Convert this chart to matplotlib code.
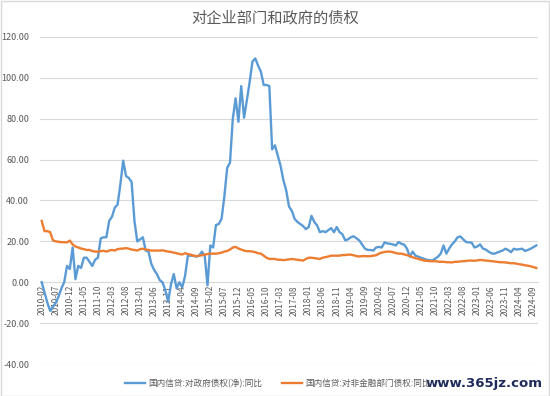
import numpy as np
import pandas as pd
import matplotlib
matplotlib.use('Agg')
import matplotlib.pyplot as plt
from matplotlib.ticker import FormatStrFormatter
from matplotlib.patches import Rectangle

plt.rcParams['font.family'] = ['Noto Sans CJK SC', 'DejaVu Sans']

# data (monthly, 2010-02 .. 2024-10) ------------------------------------------------------------------------------------
months = pd.date_range('2010-02-01', periods=177, freq='MS').strftime('%Y-%m').tolist()

gov_claims = [
	0, -5, -10, -14, -12, -10, -7, -3, 0, 8,
	6.5, 17, 1.5, 8, 7, 12, 12, 10, 8, 11,
	12, 21.5, 22, 22, 30, 32, 36.5, 38, 48, 59.5,
	52, 51, 49, 30, 20, 21, 22, 15.5, 15, 9,
	6, 4, 1, 0, -4, -9.5, -1, 4, -3, 0,
	-2.5, 3, 13, 13, 13, 12.5, 13, 15, 13, -1.5,
	18, 17, 28, 28.5, 31, 42, 56, 58.5, 80, 90,
	78.5, 96, 80.5, 89, 98, 108, 109.5, 106, 103, 96.5,
	96.5, 96, 65, 67, 62, 57, 50, 45, 37, 35,
	31, 29.5, 28.5, 27.5, 26, 27, 32.5, 29.5, 27.8, 24.5,
	25, 24.5, 25.5, 26.5, 24.5, 27, 24.5, 23.5, 20.5, 21,
	22, 22.5, 21.5, 20.5, 18.5, 16.5, 15.8, 15.8, 15.5, 17,
	17.3, 17, 19.5, 19, 18.8, 18.5, 18, 19.7, 18.8, 18.4,
	16.4, 12.5, 15, 13, 12.5, 12, 11.5, 11, 10.8, 10.6,
	11.5, 12.5, 14, 18, 14, 16.5, 18.5, 20, 22, 22.4,
	21, 19.7, 19.5, 19.4, 17, 17.5, 18.5, 16.5, 16, 15,
	14.2, 13.9, 14.5, 15, 15.5, 16.4, 15.8, 14.7, 16.4, 16,
	16.2, 16.4, 15.3, 15.8, 16.4, 17.2, 18,
]

nonfin_claims = [
	30, 25, 25, 24.5, 20.5, 20, 19.8, 19.6, 19.6, 19.5,
	20.4, 18.5, 17.5, 17, 16.5, 16.2, 15.8, 15.8, 15.3, 15,
	15, 15.2, 15.4, 15, 15.5, 15.8, 15.5, 16.2, 16.4, 16.5,
	16.7, 16.4, 16, 15.8, 15.5, 16.2, 16.4, 16, 15.8, 15.5,
	15.5, 15.5, 15.5, 15.6, 15.3, 15, 14.8, 14.5, 14.2, 13.8,
	13.6, 14.2, 13.8, 13.5, 13, 12.8, 13, 13.2, 13.5, 13.8,
	14, 14, 14, 14.2, 14.5, 15, 15.3, 16, 17, 17.3,
	16.5, 16, 15.5, 15.2, 15.2, 15, 14.7, 14.2, 14, 13,
	12, 11.4, 11.4, 11.4, 11, 11, 10.8, 11, 11.2, 11.4,
	11.2, 11, 10.8, 10.6, 11.4, 12, 12, 11.8, 11.6, 11.4,
	12, 12.3, 12.6, 13, 13, 13, 13, 13.3, 13.3, 13.5,
	13.5, 13.2, 12.8, 12.6, 12.8, 12.8, 12.7, 12.8, 13, 13.2,
	14, 14.5, 14.8, 15, 15, 14.7, 14.3, 14, 14, 13.6,
	13.3, 12.8, 12.2, 11.8, 11.4, 11, 10.6, 10.5, 10.3, 10.3,
	10.3, 10.1, 10, 10, 9.8, 9.8, 9.7, 10, 10, 10.2,
	10.3, 10.4, 10.6, 10.6, 10.5, 10.7, 10.9, 10.8, 10.6, 10.5,
	10.3, 10.2, 10, 9.8, 9.8, 9.7, 9.5, 9.3, 9.3, 9.1,
	8.8, 8.6, 8.3, 8.1, 7.8, 7.4, 7,
]

series_names = ['国内信贷:对政府债权(净):同比', '国内信贷:对非金融部门债权:同比']
title = '对企业部门和政府的债权'

# Plotting ----------------------------------------------------------------
fig = plt.figure(figsize=(5.5, 3.96), dpi=100)
ax = fig.add_axes([0.0733, 0.0808, 0.9043, 0.8258])

x = np.arange(len(months))
ax.plot(x, gov_claims, color='#5B9BD5', lw=1.7, label=series_names[0], zorder=3)
ax.plot(x, nonfin_claims, color='#ED7D31', lw=1.7, label=series_names[1], zorder=3)

ax.set_xlim(-0.5, len(months) - 0.5)
ax.set_ylim(-40, 120)
ax.set_yticks(np.arange(-40, 121, 20))
ax.yaxis.set_major_formatter(FormatStrFormatter('%.2f'))
ax.grid(axis='y', color='#d9d9d9', lw=0.8)
ax.set_axisbelow(True)

ax.set_xticks(x[::5])
ax.set_xticklabels(months[::5])
ax.tick_params(axis='x', length=0, pad=2, labelrotation=90, labelsize=6, colors='#595959')
ax.tick_params(axis='y', length=0, pad=8, labelsize=6.5, colors='#595959')

for s in ['top', 'right', 'left']:
	ax.spines[s].set_visible(False)
ax.spines['bottom'].set_position(('data', 0)) # category axis crosses at 0
ax.spines['bottom'].set_color('#d9d9d9')
ax.spines['bottom'].set_linewidth(0.8)

fig.text(0.5, 0.955, title, ha='center', va='center', fontsize=11, color='#595959')

fig.legend(loc='center', bbox_to_anchor=(0.505, 0.031), ncol=2, frameon=False,
	fontsize=6.2, handlelength=2.3, handletextpad=0.4, columnspacing=2.3,
	labelcolor='#595959', borderaxespad=0)

# site watermark over the picture
fig.text(0.987, 0.031, 'www.365jz.com', ha='right', va='center', fontsize=9.5,
	fontweight='bold', color='#1f2a5c', family=['DejaVu Sans'])

fig.patches.append(Rectangle((0.001, 0.001), 0.997, 0.997, transform=fig.transFigure,
	fill=False, edgecolor='#d9d9d9', lw=1))

plt.savefig('out.png', dpi=100)
